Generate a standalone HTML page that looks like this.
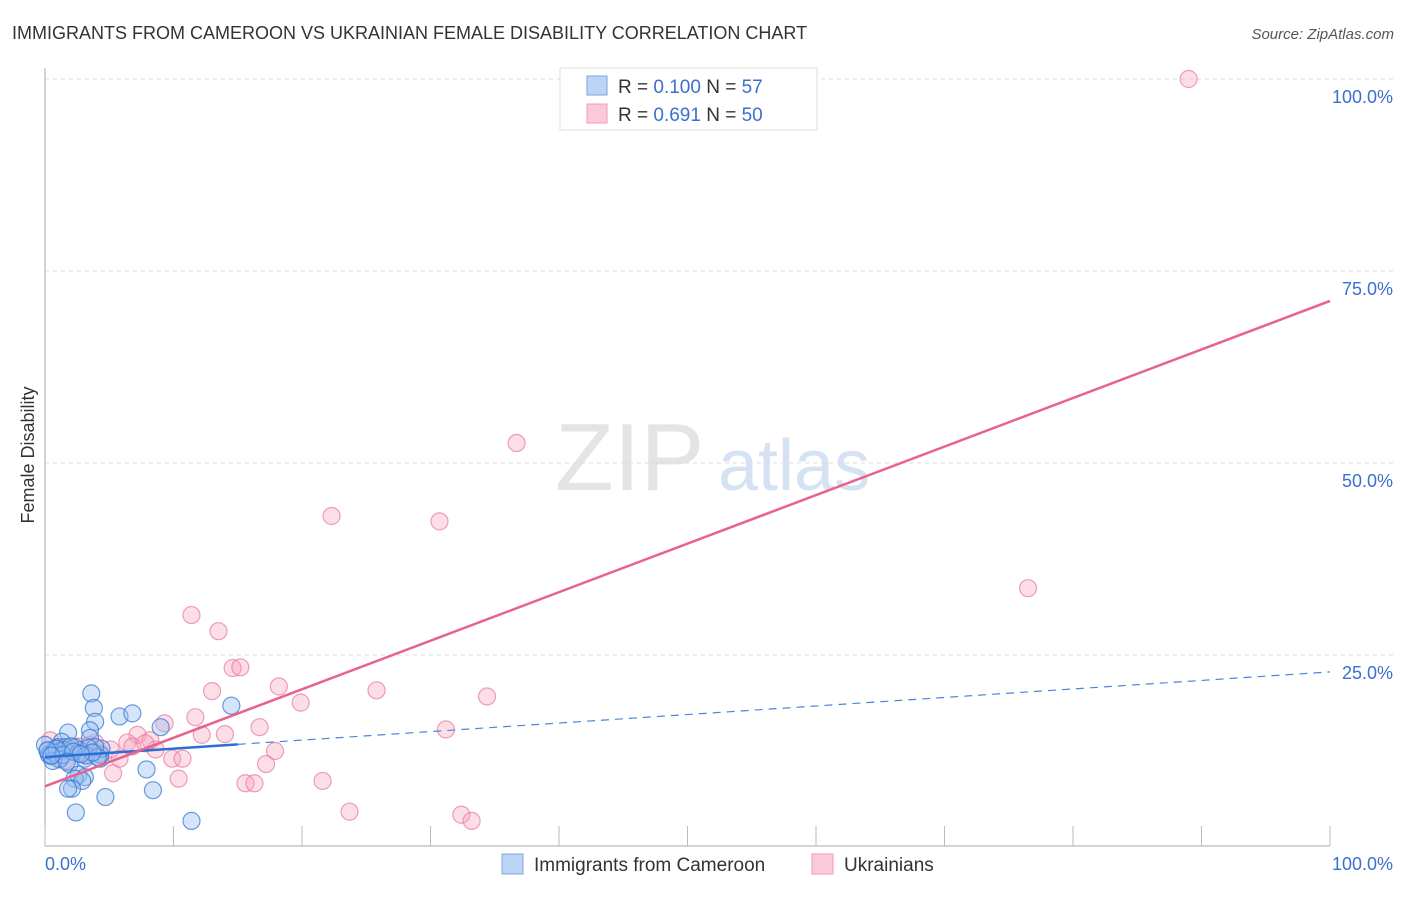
<!DOCTYPE html>
<html><head><meta charset="utf-8"><style>
body{margin:0;background:#fff;font-family:"Liberation Sans",sans-serif}
svg text{font-family:"Liberation Sans",sans-serif}
</style></head><body>
<svg width="1406" height="892">
<text x="12" y="39" font-size="18" fill="#333">IMMIGRANTS FROM CAMEROON VS UKRAINIAN FEMALE DISABILITY CORRELATION CHART</text>
<text x="1394" y="39" font-size="15" fill="#555" text-anchor="end" font-style="italic">Source: ZipAtlas.com</text>
<text x="555" y="490" font-size="96" fill="#e4e4e4" font-family="Liberation Serif">ZIP</text>
<text x="718" y="490" font-size="72" fill="#d5e2f4">atlas</text>
<g id="grid"></g>
<g id="marks"></g>
<text x="34" y="455" font-size="18" fill="#333" text-anchor="middle" transform="rotate(-90 34 455)">Female Disability</text>
<text x="45" y="870" font-size="18" fill="#3b6fd0">0.0%</text>
<text x="1393" y="870" font-size="18" fill="#3b6fd0" text-anchor="end">100.0%</text>
<g>
<rect x="560" y="68" width="257" height="62" fill="#fff" stroke="#ddd"/>
<rect x="587" y="76" width="20" height="19" fill="#bcd5f5" stroke="#7aa6e6"/>
<rect x="587" y="104" width="20" height="19" fill="#fbcad8" stroke="#f09ab3"/>
<text x="618" y="93" font-size="19" fill="#333">R = <tspan fill="#3b6fd0">0.100</tspan>   N =  <tspan fill="#3b6fd0">57</tspan></text>
<text x="618" y="121" font-size="19" fill="#333">R =  <tspan fill="#3b6fd0">0.691</tspan>   N = <tspan fill="#3b6fd0">50</tspan></text>
</g>
<g>
<rect x="502" y="854" width="21" height="20" fill="#bcd5f5" stroke="#7aa6e6"/>
<text x="534" y="871" font-size="19" fill="#333">Immigrants from Cameroon</text>
<rect x="812" y="854" width="21" height="20" fill="#fbcad8" stroke="#f09ab3"/>
<text x="844" y="871" font-size="19" fill="#333">Ukrainians</text>
</g>
</svg>
<script>
const yTicks=[25,50,75,100];
const yTickLabels=["25.0%","50.0%","75.0%","100.0%"];
const xTicks=[0,10,20,30,40,50,60,70,80,90,100];
const blueX=[3.6,3.8,3.9,5.8,6.8,14.5,9,3.5,1.8,1.3,3.5,2.7,0.8,0.4,1.2,1.9,3.1,4.3,4.3,7.9,2.6,3.1,2.3,2.9,2.1,1.8,8.4,4.7,2.4,11.4,1,0.2,1.6,2.3,0.5,4.4,3.9,3.4,0,1.2,0.3,0.7,1.5,2,2.6,3.2,0.9,1.1,0.6,1.4,2.2,4.1,3.7,0.2,1.7,2.8,0.5];
const blueY=[20,18.1,16.3,17,17.4,18.4,15.6,15.2,14.9,13.7,14.2,12.6,12.8,12.1,11.5,10.8,11.5,11.5,12,10.1,9.4,9.1,8.9,8.6,7.6,7.6,7.4,6.5,4.5,3.4,13,12.5,13,13,11.8,12.8,13,12.9,13.3,12.5,12,12.3,12.6,13.1,12.2,11.9,12.8,11.4,11.2,12,12.4,11.7,12.3,12.6,11.1,12.1,11.9];
const pinkX=[89,36.7,22.3,30.7,76.5,11.4,13.5,14.6,15.2,13,18.2,25.8,34.4,19.9,11.7,9.3,16.7,31.2,7.2,14,12.2,6.4,8.6,5.1,2.7,4.3,1.2,17.9,9.9,10.7,17.2,5.3,10.4,21.6,15.6,16.3,23.7,32.4,33.2,0.4,1.9,3.5,8.2,5.8,6.8,7.8,1.6,3.1,0.8,3.9];
const pinkY=[100,52.6,43.1,42.4,33.7,30.2,28.1,23.3,23.4,20.3,20.9,20.4,19.6,18.8,16.9,16.1,15.6,15.3,14.6,14.7,14.6,13.6,12.7,12.7,13.1,12.2,12.5,12.5,11.5,11.5,10.8,9.6,8.9,8.6,8.3,8.3,4.6,4.2,3.4,13.9,12.9,13.3,13.9,11.5,13.1,13.5,11.3,12,12,13.6];
const pinkFit=[7.9,71.1];
const blueFit=[11.7,22.8];
const blueSolidEnd=15;
const X0=45,X1=1330,Y0=847,Y1=79;
const sx=v=>X0+(X1-X0)*v/100, sy=v=>Y0-(Y0-Y1)*v/100;
const NS="http://www.w3.org/2000/svg";
const grid=document.getElementById('grid'), marks=document.getElementById('marks');
function mk(tag,attrs,parent){const e=document.createElementNS(NS,tag);for(const k in attrs)e.setAttribute(k,attrs[k]);parent.appendChild(e);return e;}
yTicks.forEach((t,i)=>{
 const l=mk('line',{x1:X0,x2:1394,y1:sy(t),y2:sy(t),stroke:'#ddd','stroke-dasharray':'4,4'},grid);
 
 
 const tx=mk('text',{x:1393,y:sy(t)+24,'font-size':18,fill:'#3b6fd0','text-anchor':'end'},grid);
 tx.textContent=yTickLabels[i];
 
 
});
const ya=mk('line',{x1:X0,x2:X0,y1:68,y2:846,stroke:'#aaa'},grid);


const xa=mk('line',{x1:X0,x2:X1,y1:846,y2:846,stroke:'#aaa'},grid);


xTicks.forEach(t=>{
 const l=mk('line',{x1:sx(t),x2:sx(t),y1:826,y2:846,stroke:'#bbb'},grid);
 
 
});
pinkX.forEach((x,i)=>{
 const c=mk('circle',{cx:sx(x),cy:sy(pinkY[i]),r:8.5,fill:'rgba(246,160,186,0.35)',stroke:'rgba(232,120,155,0.7)','stroke-width':1.2},marks);
 
 
});
blueX.forEach((x,i)=>{
 const c=mk('circle',{cx:sx(x),cy:sy(blueY[i]),r:8.5,fill:'rgba(150,190,240,0.4)',stroke:'rgba(60,120,210,0.75)','stroke-width':1.2},marks);
 
 
});
const bf=v=>blueFit[0]+(blueFit[1]-blueFit[0])*v/100;
const bs=mk('line',{x1:sx(0),y1:sy(bf(0)),x2:sx(blueSolidEnd),y2:sy(bf(blueSolidEnd)),stroke:'#2a6fd6','stroke-width':2.5},marks);


const bd=mk('line',{x1:sx(blueSolidEnd),y1:sy(bf(blueSolidEnd)),x2:sx(100),y2:sy(bf(100)),stroke:'#4a85dd','stroke-width':1.2,'stroke-dasharray':'8,6'},marks);


const pl=mk('line',{x1:sx(0),y1:sy(pinkFit[0]),x2:sx(100),y2:sy(pinkFit[1]),stroke:'#e8628e','stroke-width':2.5},marks);


</script>
</body></html>
